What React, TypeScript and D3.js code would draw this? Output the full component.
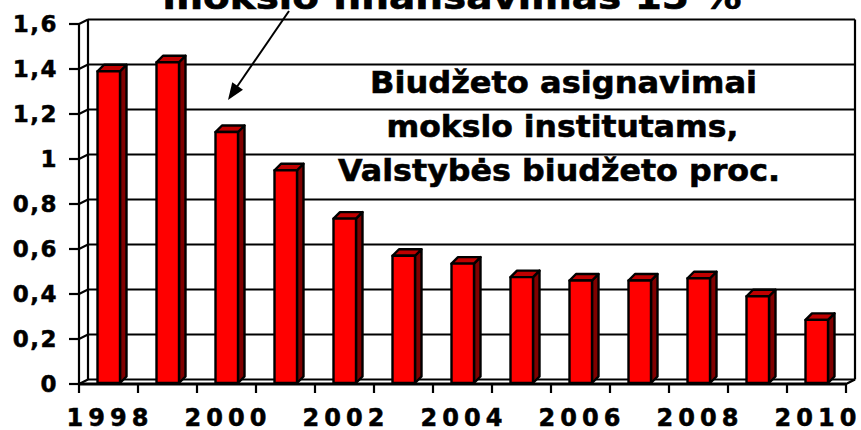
import React from "react";
import * as d3 from "d3";

const years = [1998, 1999, 2000, 2001, 2002, 2003, 2004, 2005, 2006, 2007, 2008, 2009, 2010];
const values = [1.39, 1.43, 1.12, 0.95, 0.735, 0.57, 0.535, 0.475, 0.46, 0.46, 0.47, 0.39, 0.285];
const yTicks = [0, 0.2, 0.4, 0.6, 0.8, 1.0, 1.2, 1.4, 1.6];
const xLabelYears = [1998, 2000, 2002, 2004, 2006, 2008, 2010];
const boxLines = ["Biudžeto asignavimai", "mokslo institutams,", "Valstybės biudžeto proc."];
const titleText = "mokslo finansavimas  15 %";

const W = 861;
const H = 430;
const FONT = "'DejaVu Sans', Verdana, sans-serif";

export default function App() {
  const x = d3.scaleBand<number>().domain(years).range([79, 846]).padding(0);
  const y = d3.scaleLinear().domain([0, 1.6]).range([384, 24]);
  const wdx = 9;
  const wdy = -4.5;
  const bdx = 6.5;
  const bdy = -6.5;
  const barOff = 18.5;
  const barW = 22.5;
  const fmt = (v: number) => (v === 0 ? "0" : v === 1 ? "1" : d3.format(".1f")(v).replace(".", ","));
  const xEnd = x.range()[1];
  const boxGeom = [
    { cx: 563.5, len: 387 },
    { cx: 562.5, len: 352 },
    { cx: 559, len: 442 },
  ];

  return (
    <svg width={W} height={H} style={{ position: "absolute", left: 0, top: 0, background: "#fff" }}>
      {/* back wall gridlines */}
      {yTicks.map((t) => (
        <g key={t}>
          <line x1={x.range()[0] + wdx} x2={xEnd + wdx} y1={y(t) + wdy} y2={y(t) + wdy} stroke="#000" strokeWidth={2.2} />
          <line x1={x.range()[0]} x2={x.range()[0] + wdx} y1={y(t)} y2={y(t) + wdy} stroke="#000" strokeWidth={2} />
          <line x1={x.range()[0] - 10} x2={x.range()[0]} y1={y(t)} y2={y(t)} stroke="#000" strokeWidth={2.2} />
          <text
            x={58}
            y={y(t)}
            dy="0.36em"
            textAnchor="end"
            fontFamily={FONT}
            fontWeight="bold"
            fontSize={23}
            letterSpacing={1.5}
            stroke="#000"
            strokeWidth={0.5}
          >
            {fmt(t)}
          </text>
        </g>
      ))}
      {/* walls */}
      <line x1={x.range()[0] + wdx} x2={x.range()[0] + wdx} y1={y(1.6) + wdy} y2={y(0) + wdy} stroke="#000" strokeWidth={2.2} />
      <line x1={xEnd + wdx} x2={xEnd + wdx} y1={y(1.6) + wdy} y2={y(0) + wdy} stroke="#000" strokeWidth={2.2} />
      <line x1={x.range()[0]} x2={x.range()[0]} y1={y(1.6)} y2={y(0)} stroke="#000" strokeWidth={2.2} />
      <line x1={xEnd} x2={xEnd + wdx} y1={y(0)} y2={y(0) + wdy} stroke="#000" strokeWidth={2.2} />
      {/* bars */}
      {years.map((yr, i) => {
        const x0 = (x(yr) as number) + barOff;
        const x1 = x0 + barW;
        const yt = y(values[i]);
        const yb = y(0) - 1;
        const top = `M${x0},${yt} L${x0 + bdx},${yt + bdy} L${x1 + bdx},${yt + bdy} L${x1},${yt} Z`;
        const side = `M${x1},${yt} L${x1 + bdx},${yt + bdy} L${x1 + bdx},${yb + bdy} L${x1},${yb} Z`;
        return (
          <g key={yr} stroke="#000" strokeWidth={2.4} strokeLinejoin="round">
            <path d={side} fill="#800000" />
            <path d={top} fill="#C00000" />
            <rect x={x0} y={yt} width={barW} height={yb - yt} fill="#FF0000" />
          </g>
        );
      })}
      {/* floor front */}
      <line x1={x.range()[0] - 1} x2={xEnd} y1={y(0)} y2={y(0)} stroke="#000" strokeWidth={2.8} />
      {/* x ticks */}
      {[...years.map((yr) => x(yr) as number), xEnd].map((tx, i) => (
        <line key={i} x1={tx} x2={tx} y1={y(0)} y2={y(0) + 9} stroke="#000" strokeWidth={2.2} />
      ))}
      {xLabelYears.map((yr) => (
        <text
          key={yr}
          x={(x(yr) as number) + x.bandwidth() / 2 - 1}
          y={426}
          textAnchor="middle"
          fontFamily={FONT}
          fontWeight="bold"
          fontSize={24}
          letterSpacing={5}
          stroke="#000"
          strokeWidth={0.5}
          dx={2.5}
        >
          {yr}
        </text>
      ))}
      {/* annotation box text */}
      {boxLines.map((s, i) => (
        <text
          key={i}
          x={boxGeom[i].cx}
          y={93 + i * 44}
          textAnchor="middle"
          fontFamily={FONT}
          fontWeight="bold"
          fontSize={31}
          textLength={boxGeom[i].len}
          lengthAdjust="spacingAndGlyphs"
          stroke="#000"
          strokeWidth={0.6}
        >
          {s}
        </text>
      ))}
      {/* title (clipped at top) */}
      <text
        x={452}
        y={9}
        textAnchor="middle"
        fontFamily={FONT}
        fontWeight="bold"
        fontSize={33}
        textLength={579}
        lengthAdjust="spacingAndGlyphs"
        stroke="#000"
        strokeWidth={0.6}
      >
        {titleText}
      </text>
      {/* arrow */}
      <line x1={289} y1={11} x2={232} y2={94} stroke="#000" strokeWidth={2} />
      <path
        d={(() => {
          const tx = 228, ty = 100, fx = 289, fy = 11;
          const ang = Math.atan2(ty - fy, tx - fx);
          const L = 17, Wd = 6.5;
          const bx = tx - L * Math.cos(ang), by = ty - L * Math.sin(ang);
          const px = -Math.sin(ang) * Wd, py = Math.cos(ang) * Wd;
          return `M${tx},${ty} L${bx + px},${by + py} L${bx - px},${by - py} Z`;
        })()}
        fill="#000"
      />
    </svg>
  );
}
